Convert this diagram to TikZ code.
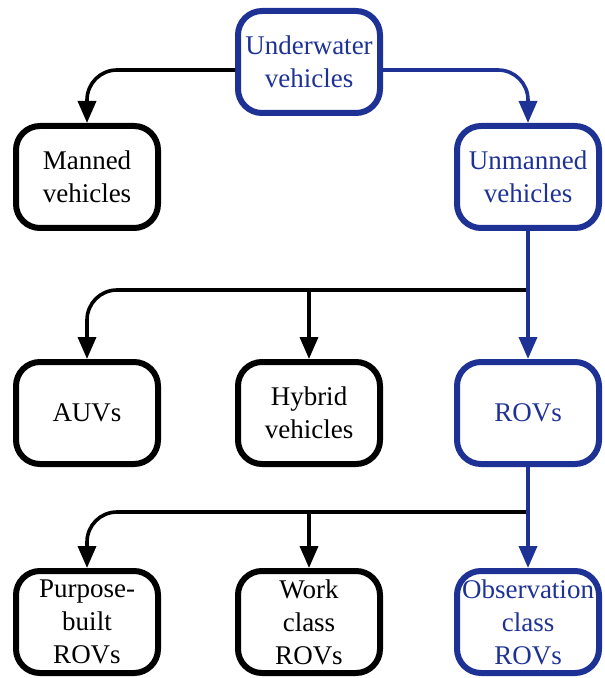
\documentclass[tikz,border=0pt]{standalone}
\usepackage{fontspec}
\setmainfont{Liberation Serif}
\usetikzlibrary{arrows.meta}
\definecolor{navy}{RGB}{30,50,150}
\tikzset{
  box/.style={draw,line width=3pt,rounded corners=12pt,minimum width=71pt,
    minimum height=51pt,align=center,inner sep=1pt,
    font=\rmfamily\fontsize{13.5}{16.5}\selectfont},
  bluebox/.style={box,draw=navy,text=navy},
  link/.style={line width=1.8pt,-{Triangle[width=9pt,length=11pt]},rounded corners=15pt},
}
\begin{document}
\begin{tikzpicture}[x=0.5pt,y=-0.5pt]
    \useasboundingbox (0,0) rectangle (604,678);
    \node[bluebox] (uw) at (309,62) {Underwater\\vehicles};
    \node[box] (man) at (87,177) {Manned\\vehicles};
    \node[bluebox] (unm) at (528,177) {Unmanned\\vehicles};
    \node[box] (auv) at (87,413) {AUVs};
    \node[box] (hyb) at (309,413) {Hybrid\\vehicles};
    \node[bluebox] (rov) at (528,413) {ROVs};
    \node[box] (pb) at (87,622) {Purpose-\\built\\ROVs};
    \node[box] (wc) at (309,622) {Work\\class\\ROVs};
    \node[bluebox] (oc) at (528,622) {Observation\\class\\ROVs};
    \coordinate (br1) at (unm.south |- 0,290);
    \coordinate (br2) at (rov.south |- 0,512);
    \draw[link] ([yshift=-4pt]uw.west) -| (man.north);
    \draw[link,navy] ([yshift=-4pt]uw.east) -| (unm.north);
    \draw[link] (br1) -| (auv.north);
    \draw[link] (br1 -| hyb.north) -- (hyb.north);
    \draw[link,navy] (unm.south) -- (rov.north);
    \draw[link] (br2) -| (pb.north);
    \draw[link] (br2 -| wc.north) -- (wc.north);
    \draw[link,navy] (rov.south) -- (oc.north);
\end{tikzpicture}
\end{document}
